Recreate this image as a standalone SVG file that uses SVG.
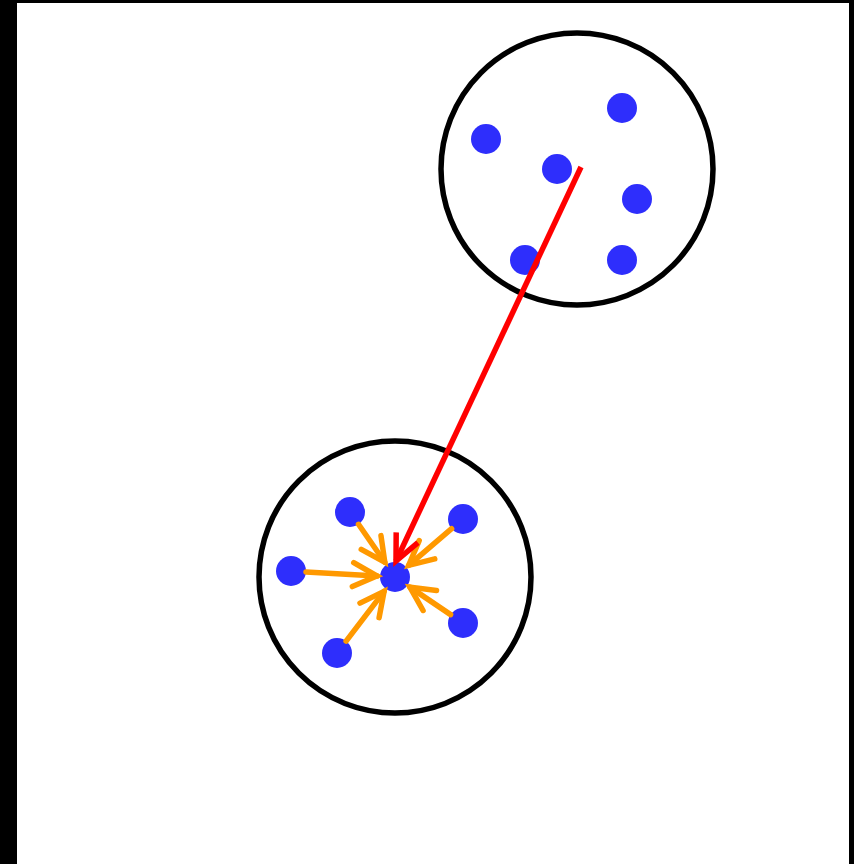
<svg xmlns="http://www.w3.org/2000/svg" width="854" height="864" viewBox="0 0 854 864">
<style>
.frame{fill:#000}
.cluster{fill:none;stroke:#000;stroke-width:5.5}
.pt{fill:#2e2efc}
.orange{stroke:#ff9900;stroke-width:5.5;fill:none;stroke-linecap:round}
.red{stroke:#ff0000;stroke-width:5.5;fill:none}
</style>
<defs>
<marker id="ah-o" markerUnits="userSpaceOnUse" markerWidth="40" markerHeight="40" viewBox="-30 -20 40 40" refX="0" refY="0" orient="auto" overflow="visible">
<path d="M-24,-12 L0,0 L-24,12" fill="none" stroke="#ff9900" stroke-width="5.5" stroke-linecap="round" stroke-linejoin="miter"/>
</marker>
<marker id="ah-r" markerUnits="userSpaceOnUse" markerWidth="40" markerHeight="40" viewBox="-30 -20 40 40" refX="0" refY="0" orient="auto" overflow="visible">
<path d="M-26,-12 L0,0 L-26,12" fill="none" stroke="#ff0000" stroke-width="5.5" stroke-linecap="butt" stroke-linejoin="miter"/>
</marker>
</defs>
<rect width="854" height="864" fill="#fff"/>
<rect class="frame" x="0" y="0" width="17" height="864"/>
<rect class="frame" x="0" y="0" width="854" height="3"/>
<rect class="frame" x="849" y="0" width="5" height="864"/>
<g id="cluster-top"><circle class="cluster" cx="577" cy="169" r="136"/></g>
<g id="cluster-bottom"><circle class="cluster" cx="395" cy="577" r="136"/></g>
<g id="n1"><circle class="pt" cx="486" cy="139" r="15"/></g>
<g id="n2"><circle class="pt" cx="622" cy="108" r="15"/></g>
<g id="n3"><circle class="pt" cx="557" cy="169" r="15"/></g>
<g id="n4"><circle class="pt" cx="637" cy="199" r="15"/></g>
<g id="n5"><circle class="pt" cx="525" cy="260" r="15"/></g>
<g id="n6"><circle class="pt" cx="622" cy="260" r="15"/></g>
<g id="c0"><circle class="pt" cx="395" cy="577" r="15"/></g>
<g id="c1"><circle class="pt" cx="350" cy="512" r="15"/></g>
<g id="c2"><circle class="pt" cx="463" cy="519" r="15"/></g>
<g id="c3"><circle class="pt" cx="291" cy="571" r="15"/></g>
<g id="c4"><circle class="pt" cx="337" cy="653" r="15"/></g>
<g id="c5"><circle class="pt" cx="463" cy="623" r="15"/></g>
<g id="connectors">
<line class="orange" x1="358.5" y1="524.3" x2="384.8" y2="562.2" marker-end="url(#ah-o)"/>
<line class="orange" x1="451.6" y1="528.7" x2="408.7" y2="565.3" marker-end="url(#ah-o)"/>
<line class="orange" x1="306" y1="571.9" x2="377" y2="576" marker-end="url(#ah-o)"/>
<line class="orange" x1="346.1" y1="641.1" x2="384.1" y2="591.3" marker-end="url(#ah-o)"/>
<line class="orange" x1="450.6" y1="614.6" x2="409.9" y2="587.1" marker-end="url(#ah-o)"/>
<line class="red" x1="581" y1="167" x2="396" y2="561" marker-end="url(#ah-r)"/>
</g>
</svg>
